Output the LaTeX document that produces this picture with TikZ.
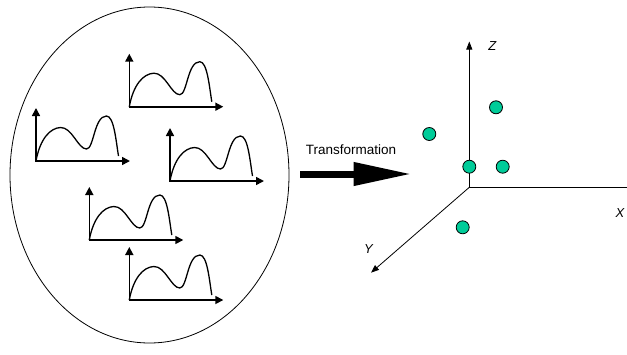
\documentclass[tikz,border=0pt]{standalone}
\usepackage{fontspec}
\setmainfont{Liberation Sans}
\usetikzlibrary{arrows.meta,shapes.geometric}
\definecolor{dotgreen}{RGB}{0,204,153}
\tikzset{
  axthick/.style={line width=1.6pt,-{Triangle[length=8pt,width=8pt]}},
  wave/.style={line width=1.3pt},
  axthin/.style={line width=0.8pt,-{Triangle[length=8pt,width=6pt]}},
  pt/.style={circle,draw=black,line width=0.8pt,fill=dotgreen,minimum size=13pt,inner sep=0pt},
  lab/.style={font=\fontsize{13}{13}\selectfont\itshape,inner sep=0pt},
  pics/fgraph/.style={code={
    \draw[axthick] (0,0.8) -- (0,-53);
    \draw[axthick] (-0.8,0) -- (94,0);
    \draw[wave] (0,0) .. controls (4,-22) and (14,-33) .. (24.5,-33.5)
      .. controls (36,-34) and (42,-12) .. (50.5,-12)
      .. controls (58,-12) and (58,-45) .. (70.5,-45)
      .. controls (78,-45) and (80,-20) .. (82.5,-5);
  }}
}
\begin{document}
\begin{tikzpicture}[x=1pt,y=-1pt]
\useasboundingbox (0,0) rectangle (627,354);
% ellipse of curves
\node[ellipse,draw,line width=0.8pt,minimum width=279pt,minimum height=336pt,inner sep=0pt] (set) at (149.5,175) {};
\pic at (129.3,106.7) {fgraph};
\pic at (36,161) {fgraph};
\pic at (170,181) {fgraph};
\pic at (89.3,240) {fgraph};
\pic at (129.3,300) {fgraph};
% transformation arrow
\coordinate (ta) at (300,174);
\coordinate (tb) at (411.7,174);
\draw[line width=7pt,-{Triangle[length=58pt,width=22pt]}] (ta) -- (tb);
\node[font=\fontsize{13.5}{13.5}\selectfont] (tlab) at (351,150) {Transformation};
% 3D axes
\coordinate (O) at (469.3,187.3);
\coordinate (Zt) at (469.3,41.5);
\coordinate (Xe) at (640,187.3);
\coordinate (Yt) at (371,272.7);
\draw[axthin] (O) -- (Zt);
\draw[line width=0.8pt] (O) -- (Xe);
\draw[axthin] (O) -- (Yt);
\node[lab] (zl) at (492.3,45.7) {Z};
\node[lab] (yl) at (368.5,249.3) {Y};
\node[lab] (xl) at (620,213) {X};
% points
\node[pt] (p1) at (496,107.3) {};
\node[pt] (p2) at (429.3,134) {};
\node[pt] (p3) at (469.3,166.7) {};
\node[pt] (p4) at (502.7,166.7) {};
\node[pt] (p5) at (462.7,227.3) {};
\end{tikzpicture}
\end{document}
